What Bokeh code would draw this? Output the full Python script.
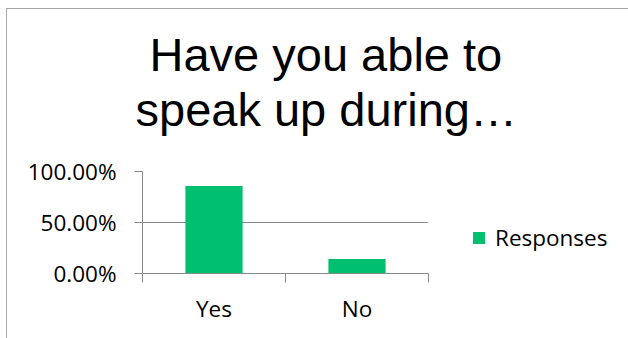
from bokeh.plotting import figure
from bokeh.models import (FixedTicker, NumeralTickFormatter, Legend, LegendItem,
                          Range1d, ColumnDataSource, Title)
from bokeh.embed import file_html
from bokeh.resources import INLINE

# ---- data ----
categories = ["Yes", "No"]
values = [0.8571, 0.1429]
y_ticks = [0.0, 0.5, 1.0]
series_name = "Responses"
title_lines = ["Have you able to", "speak up during\u2026"]

GREEN = "#00C070"
GRAY = "#898989"
FONT = "Open Sans"
FS = "22.5px"

x_pos = [i + 0.5 for i in range(len(categories))]
src = ColumnDataSource(dict(x=x_pos, top=values, cat=categories))

p = figure(frame_width=286, frame_height=102, output_backend="svg", toolbar_location=None,
           x_range=Range1d(0, len(categories)), y_range=Range1d(0, 1),
           min_border_left=135, min_border_right=200, min_border_top=162, min_border_bottom=65)
p.background_fill_color = "white"
p.border_fill_color = "white"
p.outline_line_color = None
p.styles = {"margin-left": "6px", "margin-top": "8px",
            "border-top": "1px solid #A6A6A6", "border-left": "1px solid #A6A6A6"}

r = p.vbar(x="x", top="top", bottom=0, width=0.4, source=src,
           fill_color=GREEN, line_color=None)

# y axis
p.yaxis.ticker = FixedTicker(ticks=y_ticks)
p.yaxis.formatter = NumeralTickFormatter(format="0.00%")
p.yaxis.axis_line_color = GRAY
p.yaxis.major_tick_line_color = GRAY
p.yaxis.major_tick_out = 8
p.yaxis.major_tick_in = 0
p.yaxis.minor_tick_line_color = None
p.yaxis.major_label_standoff = 18
p.yaxis.major_label_text_font = FONT
p.yaxis.major_label_text_font_size = FS
p.yaxis.major_label_text_color = "black"

# x axis: labels at category centres, tick marks at category boundaries
p.xaxis.ticker = FixedTicker(ticks=x_pos, minor_ticks=list(range(len(categories) + 1)))
p.xaxis.major_label_overrides = {x: c for x, c in zip(x_pos, categories)}
p.xaxis.axis_line_color = GRAY
p.xaxis.major_tick_line_color = None
p.xaxis.major_tick_out = 0
p.xaxis.major_tick_in = 0
p.xaxis.minor_tick_line_color = GRAY
p.xaxis.minor_tick_out = 9
p.xaxis.minor_tick_in = 0
p.xaxis.major_label_standoff = 10
p.xaxis.major_label_text_font = FONT
p.xaxis.major_label_text_font_size = FS
p.xaxis.major_label_text_color = "black"

p.xgrid.grid_line_color = None
p.ygrid.ticker = FixedTicker(ticks=y_ticks)
p.ygrid.grid_line_color = GRAY
p.ygrid.grid_line_width = 1

# legend (right panel)
legend = Legend(items=[LegendItem(label=series_name, renderers=[r])],
                location=(43, 20), orientation="vertical",
                glyph_width=15, glyph_height=15, label_height=15, label_standoff=9,
                padding=0, margin=0, spacing=0,
                border_line_color=None, background_fill_alpha=0,
                label_text_font=FONT, label_text_font_size=FS,
                label_text_color="black")
p.add_layout(legend, "right")

# title: spacer nearest the plot, then line 2, then line 1
spacer = Title(text=" ", standoff=33, text_font_size="1px")
t2 = Title(text=title_lines[1], align="left", offset=-7, standoff=0,
           text_font="Liberation Sans", text_font_size="47px",
           text_font_style="normal", text_color="black")
t1 = Title(text=title_lines[0], align="left", offset=7, standoff=0,
           text_font="Liberation Sans", text_font_size="47px",
           text_font_style="normal", text_color="black")
p.add_layout(spacer, "above")
p.add_layout(t2, "above")
p.add_layout(t1, "above")

open("out.html", "w").write(file_html(p, INLINE))
